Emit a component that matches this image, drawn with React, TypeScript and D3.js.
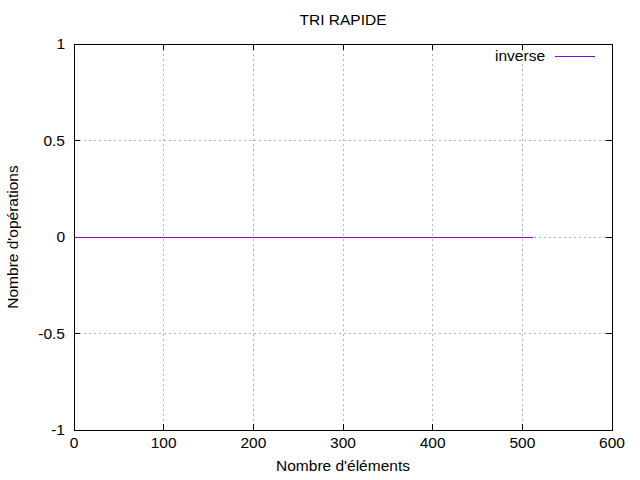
import * as d3 from 'd3';
import React from 'react';

const sizes = [1, 64, 128, 192, 256, 320, 384, 448, 512];
const operations = [0, 0, 0, 0, 0, 0, 0, 0, 0];
const xTicks = [0, 100, 200, 300, 400, 500, 600];
const yTicks = [-1, -0.5, 0, 0.5, 1];

const W = 640, H = 480;
const m = { left: 74, right: 612, top: 44, bottom: 430 };

const App: React.FC = () => {
  const x = d3.scaleLinear().domain([0, 600]).range([m.left, m.right]);
  const y = d3.scaleLinear().domain([-1, 1]).range([m.bottom, m.top]);
  const line = d3.line<number>().x((_, i) => x(sizes[i])).y(d => y(d));
  const font = { fontFamily: 'Liberation Sans, Arial, sans-serif', fontSize: 15.5 };
  return (
    <svg width={W} height={H} style={{ position: 'absolute', left: 0, top: 0, background: '#fff' }} shapeRendering="crispEdges">
      <g stroke="#a0a0a0" strokeWidth={0.8} strokeDasharray="2,3">
        {xTicks.slice(1, -1).map(t => <line key={t} x1={x(t)} x2={x(t)} y1={m.top} y2={m.bottom} />)}
        {yTicks.slice(1, -1).map(t => <line key={t} x1={m.left} x2={m.right} y1={y(t)} y2={y(t)} />)}
      </g>
      <rect x={m.left} y={m.top} width={m.right - m.left} height={m.bottom - m.top} fill="none" stroke="#000" />
      <g stroke="#000">
        {xTicks.map(t => <g key={t}><line x1={x(t)} x2={x(t)} y1={m.bottom} y2={m.bottom - 6} /><line x1={x(t)} x2={x(t)} y1={m.top} y2={m.top + 6} /></g>)}
        {yTicks.map(t => <g key={t}><line x1={m.left} x2={m.left + 6} y1={y(t)} y2={y(t)} /><line x1={m.right} x2={m.right - 6} y1={y(t)} y2={y(t)} /></g>)}
      </g>
      <g {...font} shapeRendering="auto">
        {xTicks.map(t => <text key={t} x={x(t)} y={m.bottom + 18} textAnchor="middle">{t}</text>)}
        {yTicks.map(t => <text key={t} x={m.left - 9} y={y(t) + 5} textAnchor="end">{t}</text>)}
        <text x={343} y={25} textAnchor="middle">TRI RAPIDE</text>
        <text x={343} y={471} textAnchor="middle">Nombre d'éléments</text>
        <text transform={`translate(18,${(m.top + m.bottom) / 2}) rotate(-90)`} textAnchor="middle">Nombre d'opérations</text>
        <text x={545} y={61} textAnchor="end">inverse</text>
      </g>
      <line x1={555} x2={595} y1={56} y2={56} stroke="#9400d3" />
      <path d={line(operations) ?? ''} fill="none" stroke="#9400d3" strokeWidth={1} />
    </svg>
  );
};

export default App;
